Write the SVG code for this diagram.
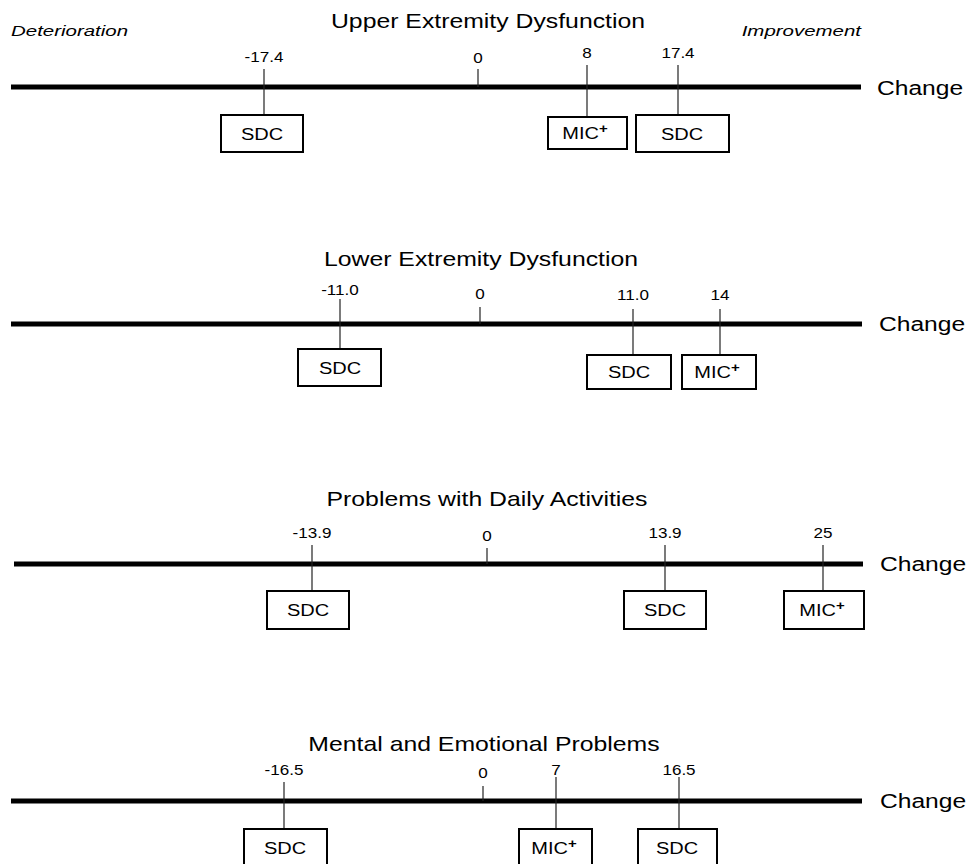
<svg xmlns="http://www.w3.org/2000/svg" width="979" height="864" viewBox="0 0 979 864">
<style>
text{font-family:"Liberation Sans",Arial,sans-serif;fill:#000}
.title{font-size:20px;text-anchor:middle}
.chg{font-size:20px}
.dir{font-size:15.5px;font-style:italic}
.val{font-size:14px;text-anchor:middle}
.bl{font-size:16px;text-anchor:middle}
.sup{font-size:12px;font-weight:bold}
.axis{stroke:#000;stroke-width:5;fill:none}
.tick{stroke:#222;stroke-width:1.2;fill:none}
.box{fill:#fff;stroke:#000;stroke-width:2}
</style>
<rect width="979" height="864" fill="#fff"/>

<g id="connectors">
  <line class="axis" x1="11" y1="87" x2="861" y2="87"/>
  <line class="axis" x1="11" y1="324" x2="862" y2="324"/>
  <line class="axis" x1="14" y1="564" x2="863" y2="564"/>
  <line class="axis" x1="11" y1="801" x2="862" y2="801"/>
  <line class="tick" x1="264" y1="69" x2="264" y2="115"/>
  <line class="tick" x1="478" y1="69" x2="478" y2="87"/>
  <line class="tick" x1="587" y1="65" x2="587" y2="117"/>
  <line class="tick" x1="678" y1="65" x2="678" y2="115"/>
  <line class="tick" x1="340" y1="299" x2="340" y2="349"/>
  <line class="tick" x1="480" y1="307" x2="480" y2="324"/>
  <line class="tick" x1="633" y1="309" x2="633" y2="355"/>
  <line class="tick" x1="720" y1="309" x2="720" y2="355"/>
  <line class="tick" x1="312" y1="545" x2="312" y2="591"/>
  <line class="tick" x1="487" y1="548" x2="487" y2="564"/>
  <line class="tick" x1="665" y1="545" x2="665" y2="591"/>
  <line class="tick" x1="823" y1="545" x2="823" y2="591"/>
  <line class="tick" x1="284" y1="782" x2="284" y2="829"/>
  <line class="tick" x1="483" y1="786" x2="483" y2="801"/>
  <line class="tick" x1="556" y1="777" x2="556" y2="829"/>
  <line class="tick" x1="679" y1="777" x2="679" y2="829"/>
</g>

<g id="panel1">
  <text class="dir" transform="translate(11,36) scale(1.32,1)">Deterioration</text>
  <text class="dir" transform="translate(861,36) scale(1.32,1)" text-anchor="end">Improvement</text>
  <text class="title" transform="translate(488,28) scale(1.24,1)">Upper Extremity Dysfunction</text>
  <text class="chg" transform="translate(877,95) scale(1.23,1)">Change</text>
  <text class="val" transform="translate(264,62) scale(1.22,1)">-17.4</text>
  <text class="val" transform="translate(478,63) scale(1.22,1)">0</text>
  <text class="val" transform="translate(587,58) scale(1.22,1)">8</text>
  <text class="val" transform="translate(678,58) scale(1.22,1)">17.4</text>
</g>
<g id="p1-sdc-neg"><rect class="box" x="221" y="115" width="82" height="37"/><text class="bl" transform="translate(262,140) scale(1.25,1)">SDC</text></g>
<g id="p1-mic"><rect class="box" x="548" y="117" width="79" height="32"/><text class="bl" transform="translate(585,139) scale(1.25,1)">MIC<tspan class="sup" dy="-6">+</tspan></text></g>
<g id="p1-sdc-pos"><rect class="box" x="636" y="115" width="93" height="37"/><text class="bl" transform="translate(682,140) scale(1.25,1)">SDC</text></g>

<g id="panel2">
  <text class="title" transform="translate(481,266) scale(1.24,1)">Lower Extremity Dysfunction</text>
  <text class="chg" transform="translate(879,331) scale(1.23,1)">Change</text>
  <text class="val" transform="translate(340,295) scale(1.22,1)">-11.0</text>
  <text class="val" transform="translate(480,299) scale(1.22,1)">0</text>
  <text class="val" transform="translate(633,300) scale(1.22,1)">11.0</text>
  <text class="val" transform="translate(720,300) scale(1.22,1)">14</text>
</g>
<g id="p2-sdc-neg"><rect class="box" x="298" y="349" width="83" height="37"/><text class="bl" transform="translate(340,374) scale(1.25,1)">SDC</text></g>
<g id="p2-sdc-pos"><rect class="box" x="587" y="355" width="84" height="34"/><text class="bl" transform="translate(629,378) scale(1.25,1)">SDC</text></g>
<g id="p2-mic"><rect class="box" x="682" y="355" width="74" height="34"/><text class="bl" transform="translate(717,378) scale(1.25,1)">MIC<tspan class="sup" dy="-6">+</tspan></text></g>

<g id="panel3">
  <text class="title" transform="translate(487,506) scale(1.24,1)">Problems with Daily Activities</text>
  <text class="chg" transform="translate(880,571) scale(1.23,1)">Change</text>
  <text class="val" transform="translate(312,538) scale(1.22,1)">-13.9</text>
  <text class="val" transform="translate(487,541) scale(1.22,1)">0</text>
  <text class="val" transform="translate(665,538) scale(1.22,1)">13.9</text>
  <text class="val" transform="translate(823,538) scale(1.22,1)">25</text>
</g>
<g id="p3-sdc-neg"><rect class="box" x="267" y="591" width="82" height="38"/><text class="bl" transform="translate(308,616) scale(1.25,1)">SDC</text></g>
<g id="p3-sdc-pos"><rect class="box" x="624" y="591" width="82" height="38"/><text class="bl" transform="translate(665,616) scale(1.25,1)">SDC</text></g>
<g id="p3-mic"><rect class="box" x="784" y="591" width="80" height="38"/><text class="bl" transform="translate(822,616) scale(1.25,1)">MIC<tspan class="sup" dy="-6">+</tspan></text></g>

<g id="panel4">
  <text class="title" transform="translate(484,751) scale(1.24,1)">Mental and Emotional Problems</text>
  <text class="chg" transform="translate(880,808) scale(1.23,1)">Change</text>
  <text class="val" transform="translate(284,775) scale(1.22,1)">-16.5</text>
  <text class="val" transform="translate(483,778) scale(1.22,1)">0</text>
  <text class="val" transform="translate(556,775) scale(1.22,1)">7</text>
  <text class="val" transform="translate(679,775) scale(1.22,1)">16.5</text>
</g>
<g id="p4-sdc-neg"><rect class="box" x="244" y="829" width="83" height="40"/><text class="bl" transform="translate(285,854) scale(1.25,1)">SDC</text></g>
<g id="p4-mic"><rect class="box" x="519" y="829" width="73" height="40"/><text class="bl" transform="translate(554,854) scale(1.25,1)">MIC<tspan class="sup" dy="-6">+</tspan></text></g>
<g id="p4-sdc-pos"><rect class="box" x="638" y="829" width="79" height="40"/><text class="bl" transform="translate(677,854) scale(1.25,1)">SDC</text></g>
</svg>
